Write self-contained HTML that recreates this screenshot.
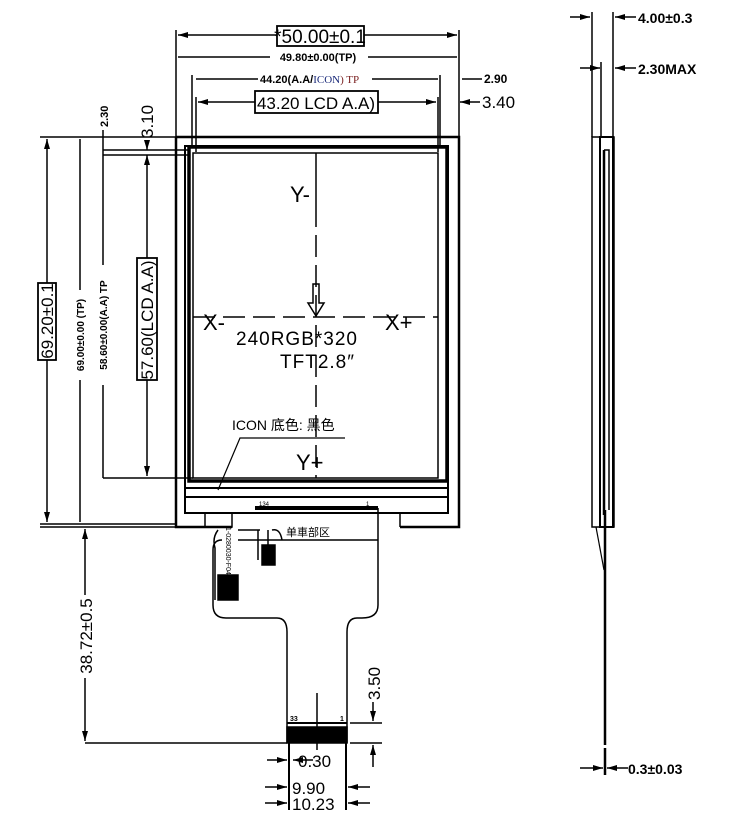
<!DOCTYPE html>
<html><head><meta charset="utf-8"><style>
html,body{margin:0;padding:0;background:#fff;}
svg{display:block;}
text{font-family:"Liberation Sans","Noto Sans CJK SC",sans-serif;fill:#000;}
.b{font-weight:bold;}
</style></head><body>
<svg width="756" height="820" viewBox="0 0 756 820" xmlns="http://www.w3.org/2000/svg">
<defs>
<marker id="a" viewBox="0 0 10 6" refX="10" refY="3" markerWidth="10" markerHeight="6" orient="auto-start-reverse" markerUnits="userSpaceOnUse"><path d="M0,0 L10,3 L0,6 z" fill="#000"/></marker>
</defs>
<g stroke="#000" fill="none" stroke-width="1.5">
<line x1="176" y1="30" x2="176" y2="137"/><line x1="459" y1="30" x2="459" y2="137"/>
<line x1="178" y1="35" x2="278" y2="35" marker-start="url(#a)"/><line x1="364" y1="35" x2="457" y2="35" marker-end="url(#a)"/>
<line x1="178" y1="57" x2="270" y2="57"/><line x1="368" y1="57" x2="457" y2="57"/>
<line x1="192" y1="75" x2="192" y2="146"/><line x1="440" y1="75" x2="440" y2="146"/>
<line x1="196" y1="79" x2="258" y2="79"/><line x1="372" y1="79" x2="438" y2="79"/>
<line x1="462" y1="79" x2="482" y2="79"/>
<line x1="196" y1="97" x2="196" y2="152"/><line x1="438" y1="97" x2="438" y2="152"/>
<line x1="198" y1="102" x2="255" y2="102" marker-start="url(#a)"/><line x1="378" y1="102" x2="436" y2="102" marker-end="url(#a)"/>
<line x1="460" y1="102" x2="480" y2="102" marker-start="url(#a)"/>
<line x1="40" y1="137" x2="176" y2="137"/><line x1="40" y1="524" x2="176" y2="524"/>
<line x1="47" y1="139" x2="47" y2="283" marker-start="url(#a)"/><line x1="47" y1="360" x2="47" y2="522" marker-end="url(#a)"/>
<line x1="80" y1="139" x2="80" y2="290"/><line x1="80" y1="380" x2="80" y2="522"/>
<line x1="103" y1="130" x2="103" y2="265"/><line x1="103" y1="385" x2="103" y2="478"/>
<line x1="103" y1="150" x2="190" y2="150"/><line x1="103" y1="155" x2="190" y2="155"/><line x1="103" y1="478" x2="193" y2="478"/>
<line x1="147" y1="140" x2="147" y2="150" marker-end="url(#a)"/>
<line x1="147" y1="155" x2="147" y2="258" marker-start="url(#a)"/><line x1="147" y1="380" x2="147" y2="476" marker-end="url(#a)"/>
<line x1="85" y1="529" x2="85" y2="595" marker-start="url(#a)"/><line x1="85" y1="678" x2="85" y2="741" marker-end="url(#a)"/>
<line x1="40" y1="527" x2="176" y2="527"/><line x1="85" y1="743" x2="287" y2="743"/>
<path d="M176,137 H459 V527 H400 M232,527 H176 V137" stroke-width="2.5"/>
<path d="M185,146 H448 V513 H185 Z" stroke-width="2"/>
<rect x="189" y="147" width="258" height="334" stroke-width="3.5"/>
<rect x="193" y="153" width="245" height="325" stroke-width="1.5"/>
<line x1="185" y1="488" x2="448" y2="488" stroke-width="2"/><line x1="185" y1="497" x2="448" y2="497" stroke-width="2"/>
<path d="M205,513 V527 H232 V513"/>
<path d="M400,513 V527"/>
<line x1="316" y1="153" x2="316" y2="205" stroke-width="1.5"/>
<line x1="316" y1="205" x2="316" y2="478" stroke-dasharray="22,8" stroke-width="1.5"/>
<line x1="193" y1="317" x2="438" y2="317" stroke-dasharray="22,8" stroke-width="1.5"/>
<path d="M313,284 H319 V303 H324 L316,316 L308,303 H313 Z" stroke-width="1.5"/>
<path d="M345,438 H240 L218,490" stroke-width="1.2"/>
<line x1="255" y1="508" x2="378" y2="508" stroke-width="4"/>
<path d="M238,540 H378 M378,508 V605 Q378,618 362,618 H357 Q347,618 347,632 V743 M287,743 V632 Q287,618 277,618 H226 Q213,618 213,605 V550 Q213,540 222,540"/>
<path d="M218,530 Q212,538 215,548 V600 M238,530 H260 M258,530 V560 M268,530 V560 M272,530 Q280,528 282,540" stroke-width="1.5"/>
<rect x="218" y="575" width="20" height="25" fill="#000"/>
<rect x="262" y="545" width="13" height="20" fill="#000"/>
<rect x="287" y="727" width="60" height="16" fill="#000"/>
<line x1="287" y1="723" x2="347" y2="723" stroke-width="2"/>
<line x1="317" y1="693" x2="317" y2="750"/>
<line x1="289" y1="743" x2="289" y2="810" stroke-width="2"/><line x1="346" y1="743" x2="346" y2="810" stroke-width="2"/>
<line x1="350" y1="723" x2="382" y2="723"/><line x1="350" y1="743" x2="382" y2="743"/>
<line x1="373" y1="702" x2="373" y2="721" marker-end="url(#a)"/><line x1="373" y1="745" x2="373" y2="767" marker-start="url(#a)"/>
<line x1="267" y1="760" x2="287" y2="760" marker-end="url(#a)"/><line x1="313" y1="760" x2="293" y2="760" marker-end="url(#a)"/>
<line x1="265" y1="787" x2="287" y2="787" marker-end="url(#a)"/><line x1="370" y1="787" x2="348" y2="787" marker-end="url(#a)"/>
<line x1="265" y1="803" x2="287" y2="803" marker-end="url(#a)"/><line x1="370" y1="803" x2="348" y2="803" marker-end="url(#a)"/>
<line x1="592" y1="12" x2="592" y2="137"/><line x1="613" y1="12" x2="613" y2="137"/><line x1="601" y1="62" x2="601" y2="137"/>
<line x1="570" y1="17" x2="590" y2="17" marker-end="url(#a)"/><line x1="636" y1="17" x2="615" y2="17" marker-end="url(#a)"/>
<line x1="580" y1="68" x2="600" y2="68" marker-end="url(#a)"/><line x1="636" y1="68" x2="615" y2="68" marker-end="url(#a)"/>
<rect x="592" y="137" width="22" height="390" stroke-width="1.5"/>
<rect x="600" y="137" width="13" height="390" stroke-width="2"/>
<path d="M604,150 H609 V510" stroke-width="1.5"/>
<line x1="604" y1="150" x2="604" y2="515" stroke-width="2.5"/>
<path d="M596,527 L604,570" stroke-width="1.2"/>
<line x1="605" y1="510" x2="605" y2="745" stroke-width="2.5"/>
<line x1="605" y1="748" x2="605" y2="775" stroke-width="2.5"/>
<line x1="580" y1="768" x2="603" y2="768" marker-end="url(#a)"/><line x1="628" y1="768" x2="607" y2="768" marker-end="url(#a)"/>
</g>
<g stroke="#000" stroke-width="1.8" fill="#fff">
<rect x="277" y="26" width="87" height="20"/>
<rect x="255" y="91" width="123" height="22"/>
<rect x="38" y="283" width="18" height="77"/>
<rect x="137" y="258" width="20" height="122"/>
</g>
<text x="320" y="43" font-size="19" text-anchor="middle">*50.00±0.1</text>
<text x="318" y="61" font-size="11" class="b" text-anchor="middle">49.80±0.00(TP)</text>
<text x="260" y="83" font-size="11" class="b">44.20(A.A/<tspan font-family="Liberation Serif" font-weight="normal" fill="#1a2a7a">ICON</tspan><tspan font-family="Liberation Serif" font-weight="normal" fill="#7a2020">) TP</tspan></text>
<text x="484" y="83" font-size="12" class="b">2.90</text>
<text x="316" y="109" font-size="17" text-anchor="middle">43.20  LCD  A.A)</text>
<text x="482" y="108" font-size="17">3.40</text>
<text transform="translate(53,321) rotate(-90)" font-size="17" text-anchor="middle">69.20±0.1</text>
<text transform="translate(84,335) rotate(-90)" font-size="10" class="b" text-anchor="middle">69.00±0.00 (TP)</text>
<text transform="translate(107,325) rotate(-90)" font-size="10" class="b" text-anchor="middle">58.60±0.00(A.A)  TP</text>
<text transform="translate(108,127) rotate(-90)" font-size="11" class="b">2.30</text>
<text transform="translate(153,320) rotate(-90)" font-size="17" text-anchor="middle">57.60(LCD  A.A)</text>
<text transform="translate(153,138) rotate(-90)" font-size="17">3.10</text>
<text transform="translate(92,636) rotate(-90)" font-size="17" text-anchor="middle">38.72±0.5</text>
<text transform="translate(380,700) rotate(-90)" font-size="17">3.50</text>
<text x="298" y="767" font-size="17">0.30</text>
<text x="292" y="794" font-size="17">9.90</text>
<text x="292" y="810" font-size="17">10.23</text>
<text x="290" y="721" font-size="7" class="b">33</text><text x="340" y="721" font-size="7" class="b">1</text>
<text x="259" y="506" font-size="6">134</text><text x="366" y="506" font-size="6">1</text>
<text x="286" y="536" font-size="11" fill="#333">单車部区</text>
<text transform="translate(226,527) rotate(90)" font-size="7">1-0280030-F04</text>
<text x="638" y="23" font-size="14" class="b">4.00±0.3</text>
<text x="638" y="74" font-size="14" class="b">2.30MAX</text>
<text x="628" y="774" font-size="14" class="b">0.3±0.03</text>
<text x="290" y="202" font-size="22">Y-</text>
<text x="203" y="330" font-size="22">X-</text>
<text x="385" y="330" font-size="22">X+</text>
<text x="296" y="470" font-size="22">Y+</text>
<text x="236" y="345" font-size="19" letter-spacing="1">240RGB*320</text>
<text x="280" y="368" font-size="19" letter-spacing="1">TFT2.8″</text>
<text x="232" y="430" font-size="14" font-family="Liberation Serif,Noto Serif CJK SC,serif" fill="#1a2a6a">ICON 底色:  黑色</text>
</svg>
</body></html>
